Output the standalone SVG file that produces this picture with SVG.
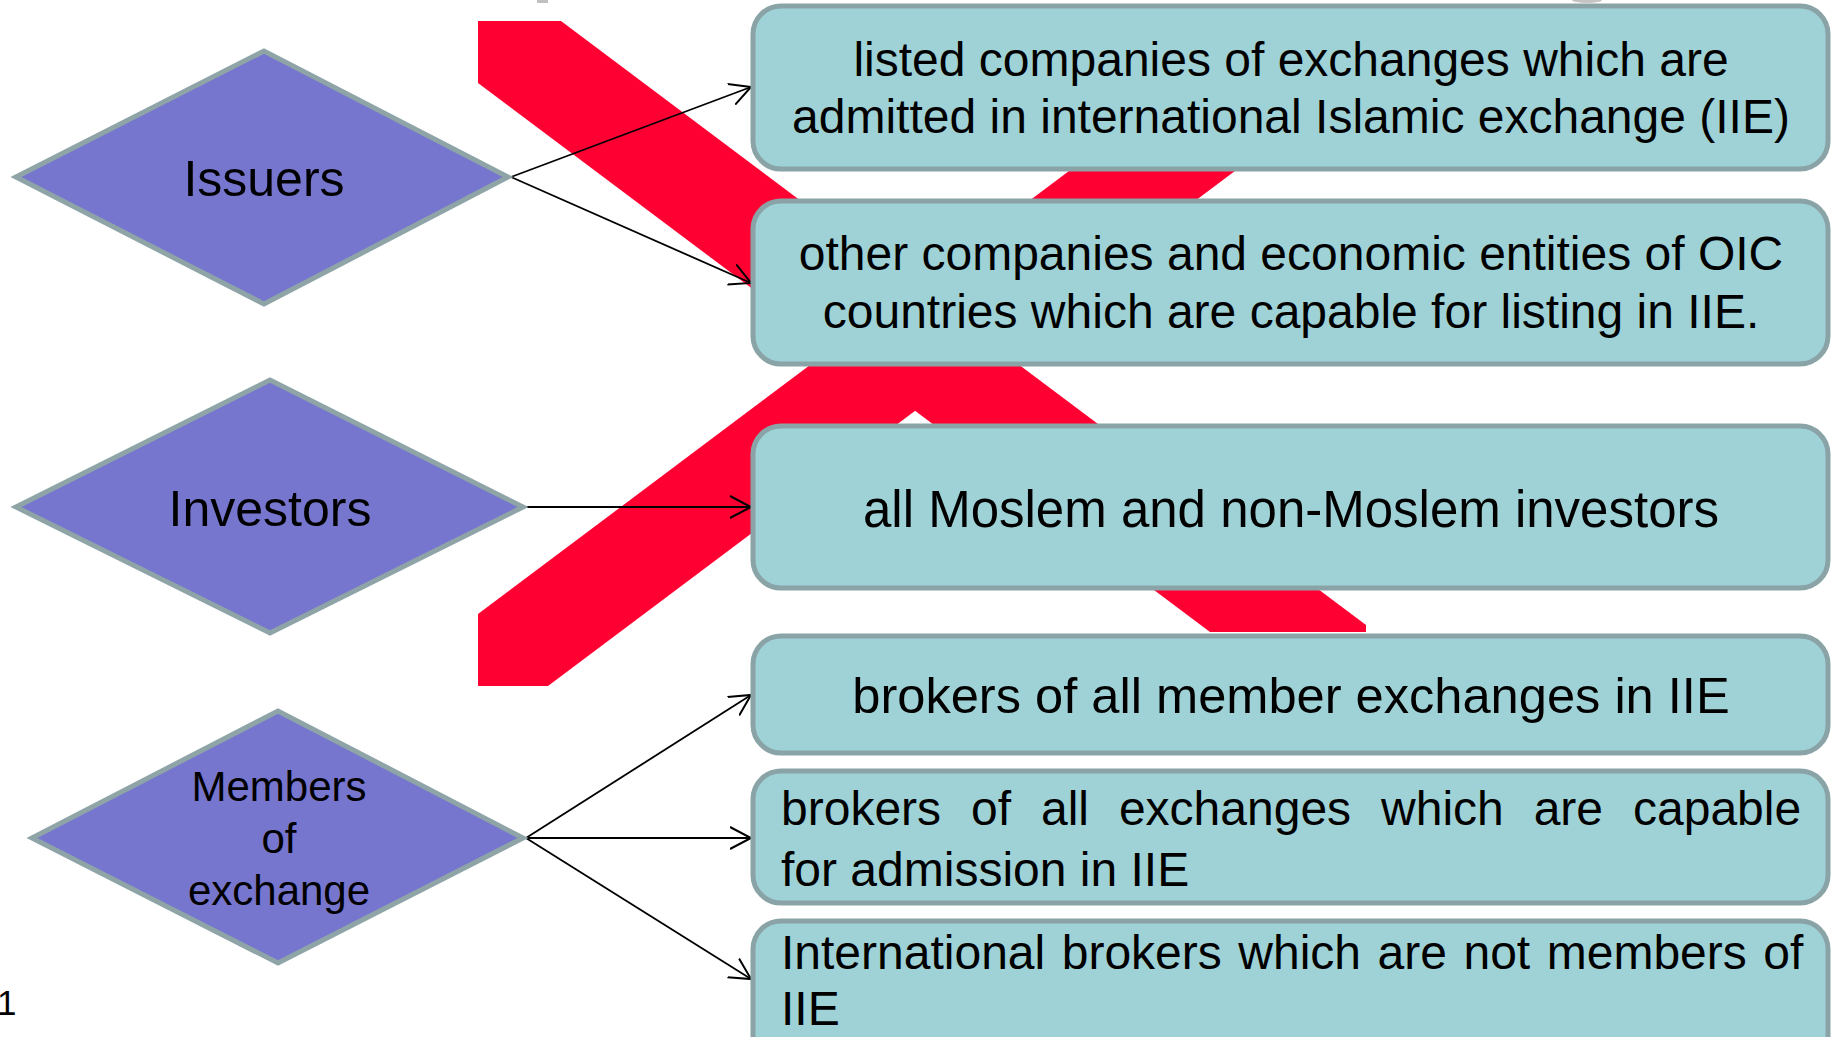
<svg xmlns="http://www.w3.org/2000/svg" width="1832" height="1037" viewBox="0 0 1832 1037">
<defs>
<style>
.dia{fill:#7676cf;stroke:#8ea4a7;stroke-width:5;stroke-linejoin:miter}
.box{fill:#9fd2d7;stroke:#8aa3a6;stroke-width:5}
.t{font-family:"Liberation Sans",Arial,sans-serif;fill:#000}
.bt{font-size:48px}
.c{text-anchor:middle}
.con{stroke:#000;stroke-width:1.8;fill:none}
.band{fill:#ff0033}
</style>
<marker id="arr" markerUnits="userSpaceOnUse" markerWidth="24" markerHeight="26" refX="21" refY="12" orient="auto" viewBox="0 0 24 26">
<path d="M0,1 L21,12 L0,23" fill="none" stroke="#000" stroke-width="2"/>
</marker>
</defs>
<rect width="1832" height="1037" fill="#fff"/>
<g id="background">
<rect x="537" y="0" width="11" height="3" fill="#c0c0c0"/>
<ellipse cx="1587" cy="0" rx="15" ry="3" fill="#c4c4c4"/>
<polygon class="band" points="478,21 561,21 1366,625 1366,632 1210,632 478,83"/>
<polygon class="band" points="478,614 1257,30 1423,30 548,686 478,686"/>
</g>
<g id="connectors">
<line class="con" x1="511" y1="177" x2="751" y2="87" marker-end="url(#arr)"/>
<line class="con" x1="511" y1="177" x2="751" y2="283" marker-end="url(#arr)"/>
<line class="con" x1="526" y1="507" x2="751" y2="507" marker-end="url(#arr)"/>
<line class="con" x1="526" y1="838" x2="751" y2="695" marker-end="url(#arr)"/>
<line class="con" x1="526" y1="838" x2="751" y2="838" marker-end="url(#arr)"/>
<line class="con" x1="526" y1="838" x2="751" y2="979" marker-end="url(#arr)"/>
</g>
<g id="issuers">
<polygon class="dia" points="16,177 264,51 508,177 264,304"/>
<text class="t c" x="264" y="196" font-size="50">Issuers</text>
</g>
<g id="investors">
<polygon class="dia" points="16,507 270,380 523,507 270,633"/>
<text class="t c" x="270" y="526" font-size="50">Investors</text>
</g>
<g id="members">
<polygon class="dia" points="32,838 278,711 523,838 278,963"/>
<text class="t c" x="279" y="801" font-size="42">Members</text>
<text class="t c" x="279" y="853" font-size="42">of</text>
<text class="t c" x="279" y="905" font-size="42">exchange</text>
</g>
<g id="box1">
<rect class="box" x="753" y="6" width="1075" height="163" rx="28"/>
<text class="t bt c" x="1291" y="76">listed companies of exchanges which are</text>
<text class="t bt c" x="1291" y="133">admitted in international Islamic exchange (IIE)</text>
</g>
<g id="box2">
<rect class="box" x="753" y="201" width="1075" height="163" rx="28"/>
<text class="t bt c" x="1291" y="270">other companies and economic entities of OIC</text>
<text class="t bt c" x="1291" y="328">countries which are capable for listing in IIE.</text>
</g>
<g id="box3">
<rect class="box" x="753" y="426" width="1075" height="162" rx="28"/>
<text class="t c" x="1291" y="527" font-size="51">all Moslem and non-Moslem investors</text>
</g>
<g id="box4">
<rect class="box" x="753" y="636" width="1075" height="117" rx="28"/>
<text class="t c" x="1291" y="713" font-size="50.6">brokers of all member exchanges in IIE</text>
</g>
<g id="box5">
<rect class="box" x="753" y="771" width="1075" height="132" rx="28"/>
<text class="t bt" x="781" y="825" word-spacing="16.6">brokers of all exchanges which are capable</text>
<text class="t bt" x="781" y="886">for admission in IIE</text>
</g>
<g id="box6">
<rect class="box" x="753" y="921" width="1075" height="150" rx="28"/>
<text class="t bt" x="781" y="969" word-spacing="3.2">International brokers which are not members of</text>
<text class="t bt" x="781" y="1025">IIE</text>
</g>
<text class="t" x="-3" y="1015" font-size="35">1</text>
</svg>
